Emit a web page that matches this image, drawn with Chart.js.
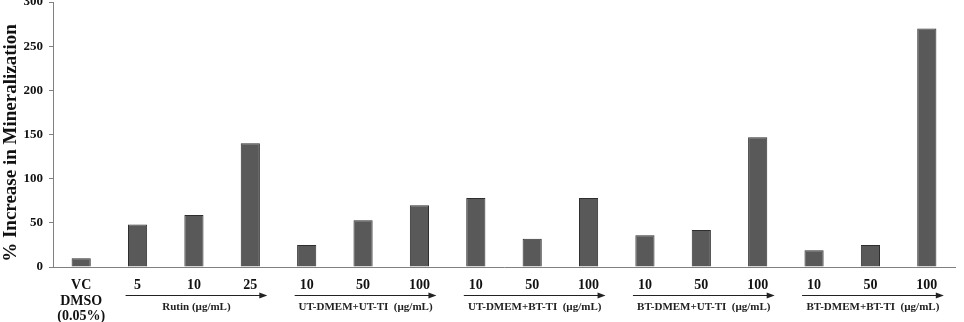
<!DOCTYPE html>
<html lang="en">
<head>
  <meta charset="UTF-8">
  <title>% Increase in Mineralization</title>
  <script src="https://cdn.jsdelivr.net/npm/chart.js"></script>
  <style>
    body { margin: 0; background: #fff; }
  </style>
</head>
<body>
  <canvas id="myChart" width="964" height="322"></canvas>

  <script>
    // tick labels under each bar
    var doseLabels = [['VC', 'DMSO', '(0.05%)'], '5', '10', '25',
                      '10', '50', '100', '10', '50', '100',
                      '10', '50', '100', '10', '50', '100'];
    // % increase in mineralization
    var mineralization = [10, 48, 59, 140, 25, 53, 70, 78, 32, 78, 36, 42, 147, 19, 25, 270];
    // group captions with the first / last bar index they span
    var groupNames = ['Rutin (\u00b5g/mL)', 'UT-DMEM+UT-TI  (\u00b5g/mL)', 'UT-DMEM+BT-TI  (\u00b5g/mL)',
                      'BT-DMEM+UT-TI  (\u00b5g/mL)', 'BT-DMEM+BT-TI  (\u00b5g/mL)'];
    var groupStart = [1, 4, 7, 10, 13];
    var groupEnd = [3, 6, 9, 12, 15];
    var yTicks = [0, 50, 100, 150, 200, 250, 300];
    var yTitle = '% Increase in Mineralization';

    var serif = '"Liberation Serif", "Times New Roman", serif';

    // arrows + group captions under the dose numbers, and the y title
    var groupArrows = {
      id: 'groupArrows',
      afterDraw: function(chart) {
        var ctx = chart.ctx;
        var x = chart.scales.x;
        ctx.save();
        ctx.strokeStyle = '#222';
        ctx.fillStyle = '#222';
        ctx.lineWidth = 1;
        for (var i = 0; i < groupNames.length; i++) {
          var x0 = x.getPixelForValue(groupStart[i]) - 12;
          var x1 = x.getPixelForValue(groupEnd[i]) + 17;
          var y = 295.5;
          ctx.beginPath();
          ctx.moveTo(x0, y);
          ctx.lineTo(x1 - 6, y);
          ctx.stroke();
          ctx.beginPath();
          ctx.moveTo(x1, y);
          ctx.lineTo(x1 - 8, y - 3);
          ctx.lineTo(x1 - 8, y + 3);
          ctx.closePath();
          ctx.fill();
          ctx.font = 'bold 11px ' + serif;
          ctx.textAlign = 'center';
          ctx.textBaseline = 'middle';
          ctx.fillText(groupNames[i], (x0 + x1) / 2, 307);
        }
        // axis title sits a little below the middle of the axis in the original
        ctx.fillStyle = '#111';
        ctx.translate(11, 143);
        ctx.rotate(-Math.PI / 2);
        ctx.font = 'bold 19px ' + serif;
        ctx.fillText(yTitle, 0, 0);
        ctx.restore();
      }
    };

    var ctx = document.getElementById('myChart').getContext('2d');
    var chart = new Chart(ctx, {
      type: 'bar',
      data: {
        labels: doseLabels,
        datasets: [{
          label: yTitle,
          data: mineralization,
          backgroundColor: '#595959',
          borderColor: '#2e2e2e',
          borderWidth: 1,
          barPercentage: 0.34,
          categoryPercentage: 1.0
        }]
      },
      options: {
        responsive: false,
        animation: false,
        layout: { padding: { top: 2, left: 0, right: 9, bottom: 0 } },
        plugins: {
          legend: { display: false },
          tooltip: { enabled: false }
        },
        scales: {
          x: {
            grid: { display: false, drawTicks: false, tickLength: 0 },
            border: { display: true, color: '#808080', width: 1 },
            ticks: {
              color: '#111',
              padding: 11,
              maxRotation: 0,
              autoSkip: false,
              font: { family: serif, size: 14, weight: 'bold', lineHeight: 1.1 }
            },
            afterFit: function(scale) { scale.height = 55; }
          },
          y: {
            min: 0,
            max: 300,
            afterBuildTicks: function(scale) {
              scale.ticks = yTicks.map(function(v) { return { value: v }; });
            },
            grid: { display: true, drawOnChartArea: false, drawTicks: true, tickLength: 4, color: '#808080' },
            border: { display: true, color: '#808080', width: 1 },
            ticks: {
              color: '#111',
              padding: 6,
              font: { family: serif, size: 13, weight: 'bold' }
            },
            afterFit: function(scale) {
              scale.width = 53;
              // let the top "300" label be cut by the canvas edge
              scale.paddingTop = 0;
            }
          }
        }
      },
      plugins: [groupArrows]
    });
  </script>
</body>
</html>
